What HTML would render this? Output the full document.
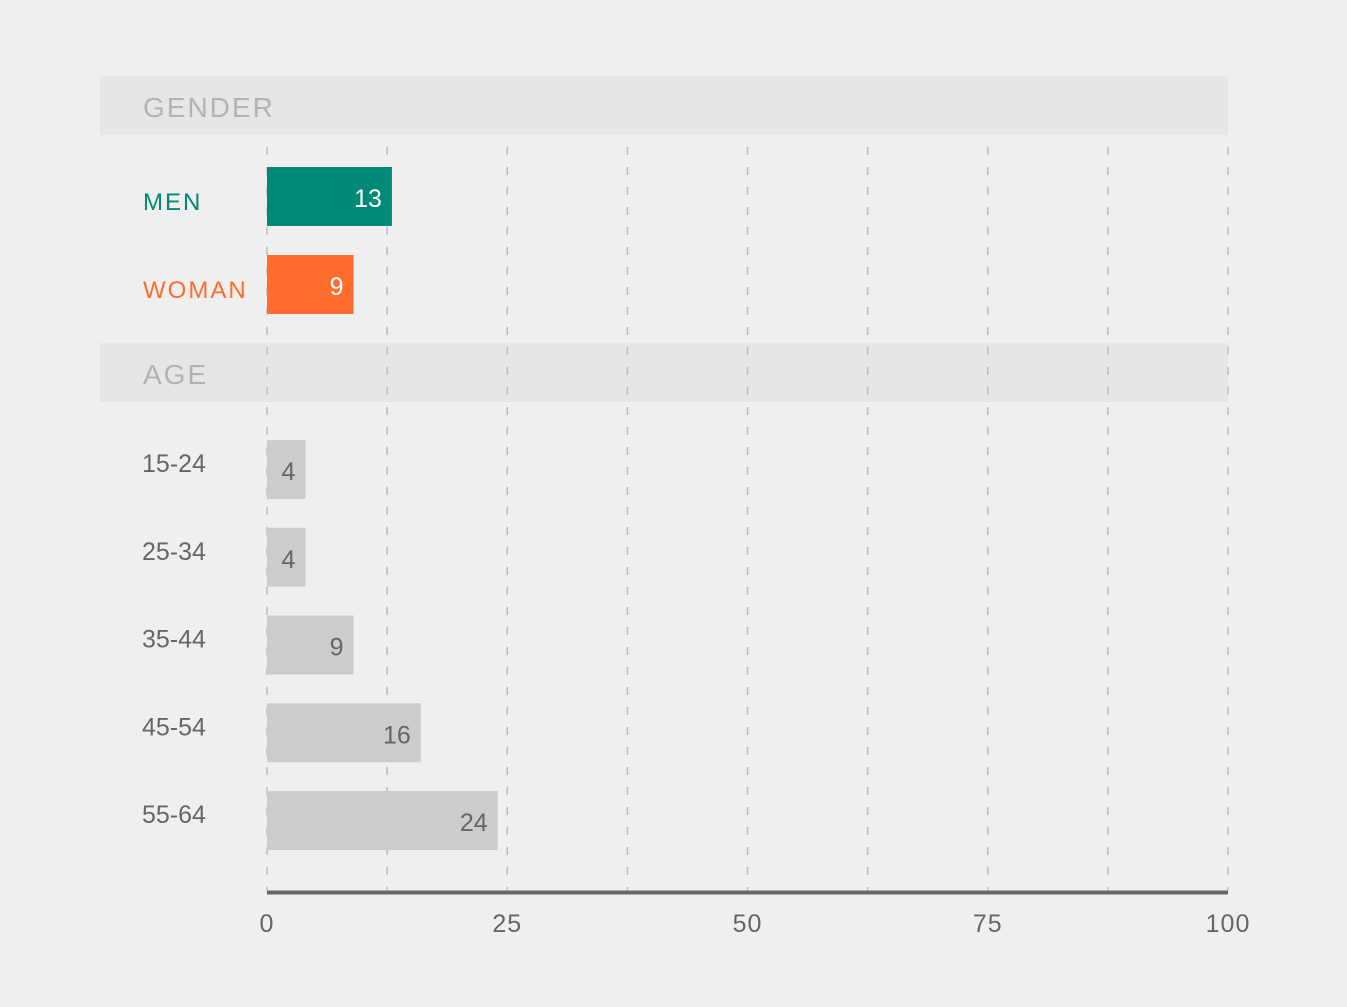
<!DOCTYPE html>
<html><head><meta charset="utf-8"><style>
html,body{margin:0;padding:0;background:#efefef;}
svg{display:block;font-family:"Liberation Sans",sans-serif;}
</style></head><body>
<svg width="1347" height="1007" viewBox="0 0 1347 1007">
<rect x="0" y="0" width="1347" height="1007" fill="#efefef"/>
<g id="bands"></g><g id="grid"></g><g id="bars"></g><g id="labels"></g><g id="axis"></g>
</svg>
<script>
const genderCats = ["MEN","WOMAN"];
const genderVals = [13, 9];
const ageCats = ["15-24","25-34","35-44","45-54","55-64"];
const ageVals = [4, 4, 9, 16, 24];
const tickVals = [0, 25, 50, 75, 100];
const gridVals = [0,12.5,25,37.5,50,62.5,75,87.5,100];

const NS="http://www.w3.org/2000/svg";
const X0=267, X1=1228;
const x = v => X0 + (v/100)*(X1-X0);
function mk(tag, attrs, parent, text){
  const e=document.createElementNS(NS,tag);
  for(const k in attrs) e.setAttribute(k,attrs[k]);
  if(text!==undefined) e.textContent=text;
  document.getElementById(parent).appendChild(e);
  return e;
}
// bands
[["GENDER",76],["AGE",343]].forEach(([t,y])=>{
  const r=mk("rect",{x:100,y:y,width:1128,height:59,fill:"#e5e6e7"},"bands");
  
  
  const tx=mk("text",{x:143,y:y+41,"font-size":28,fill:"#b3b3b3","letter-spacing":2},"bands",t);
  
  
});
// grid
gridVals.forEach(v=>{
  const l=mk("line",{x1:x(v),x2:x(v),y1:147,y2:891,stroke:"#bdbdbd","stroke-width":1.5,"stroke-dasharray":"8 12"},"grid");
  
  
});
// bars
const genderColors=["#018977","#ff6d2e"];
const genderY=[167,255];
genderCats.forEach((c,i)=>{
  const y=genderY[i];
  const b=mk("rect",{x:x(0),y:y,width:x(genderVals[i])-x(0),height:59,fill:genderColors[i]},"bars");
  
  
  const v=mk("text",{x:x(genderVals[i])-10,y:y+40,"font-size":25,fill:"#fff","text-anchor":"end"},"bars",String(genderVals[i]));
  
  
  const l=mk("text",{x:143,y:y+43,"font-size":24,fill:genderColors[i],"letter-spacing":2},"labels",c);
  
  
});
ageCats.forEach((c,i)=>{
  const y=440+i*87.75;
  const b=mk("rect",{x:x(0),y:y,width:x(ageVals[i])-x(0),height:59,fill:"#cccccc"},"bars");
  
  
  const v=mk("text",{x:x(ageVals[i])-10,y:y+40,"font-size":25,fill:"#666","text-anchor":"end"},"bars",String(ageVals[i]));
  
  
  const l=mk("text",{x:142,y:y+32,"font-size":25,fill:"#666"},"labels",c);
  
  
});
// axis
const ax=mk("line",{x1:x(0),x2:x(100),y1:892.5,y2:892.5,stroke:"#666","stroke-width":4},"axis");


tickVals.forEach(v=>{
  const t=mk("text",{x:x(v),y:932,"font-size":25,fill:"#666","text-anchor":"middle","letter-spacing":1},"axis",String(v));
  
  
});
</script>
</body></html>
